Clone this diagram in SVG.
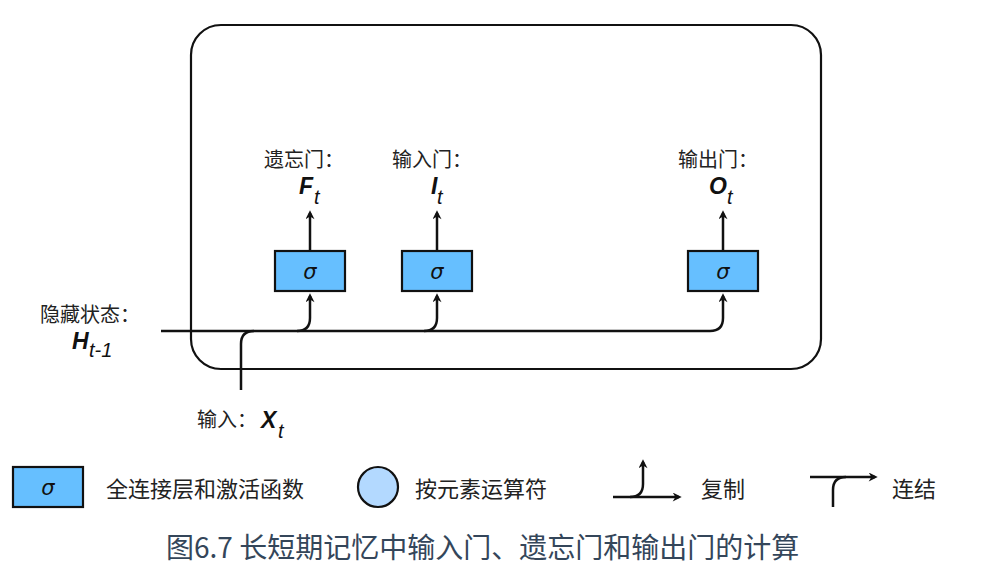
<svg xmlns="http://www.w3.org/2000/svg" width="997" height="577" viewBox="0 0 997 577">
<style>
.cjk{font-family:"Noto Sans CJK SC","Noto Sans",sans-serif;fill:#222}
.math{font-family:"Liberation Sans","DejaVu Sans",sans-serif;font-style:italic;font-weight:bold;fill:#111}
.sub{font-family:"Liberation Sans","DejaVu Sans",sans-serif;font-style:italic;fill:#111}
.sig{font-family:"DejaVu Sans","Liberation Sans",sans-serif;font-style:italic;font-size:21px;fill:#111;text-anchor:middle}
.box{fill:#66bfff;stroke:#111;stroke-width:2.2}
.ln{fill:none;stroke:#111;stroke-width:2.5}
.cap{font-family:"Noto Sans CJK SC","Noto Sans",sans-serif;fill:#34465a;font-size:28px}
</style>
<defs>
<marker id="ah" viewBox="0 0 10 10" refX="7" refY="5" markerWidth="10" markerHeight="9" orient="auto" markerUnits="userSpaceOnUse">
<path d="M0,0 L10,5 L0,10 L3,5 z" fill="#111"/>
</marker>
</defs>

<rect id="frame" x="191" y="25" width="630" height="344" rx="30" ry="30" fill="none" stroke="#111" stroke-width="2.2"/>

<g id="connectors">
<path class="ln" d="M161,331 L710,331 Q723,331 723,318 L723,296" marker-end="url(#ah)"/>
<path class="ln" d="M297,331 Q310,331 310,318 L310,296" marker-end="url(#ah)"/>
<path class="ln" d="M424,331 Q437,331 437,318 L437,296" marker-end="url(#ah)"/>
<path class="ln" d="M241,390 L241,344 Q241,331 254,331"/>
<path class="ln" d="M310,251 L310,213" marker-end="url(#ah)"/>
<path class="ln" d="M437,251 L437,213" marker-end="url(#ah)"/>
<path class="ln" d="M723,251 L723,213" marker-end="url(#ah)"/>
</g>

<g id="forget">
<rect class="box" x="275" y="251" width="70" height="40"/>
<text class="sig" x="310" y="279">σ</text>
<text class="cjk" x="264" y="167" font-size="20">遗忘门：</text>
<text class="math" x="299" y="194" font-size="23">F</text><text class="sub" x="314" y="204" font-size="20">t</text>
</g>
<g id="input">
<rect class="box" x="402" y="251" width="70" height="40"/>
<text class="sig" x="437" y="279">σ</text>
<text class="cjk" x="392" y="167" font-size="20">输入门：</text>
<text class="math" x="431" y="194" font-size="23">I</text><text class="sub" x="437" y="204" font-size="20">t</text>
</g>
<g id="output">
<rect class="box" x="688" y="251" width="70" height="40"/>
<text class="sig" x="723" y="279">σ</text>
<text class="cjk" x="678" y="167" font-size="20">输出门：</text>
<text class="math" x="709" y="194" font-size="23">O</text><text class="sub" x="727" y="204" font-size="20">t</text>
</g>
<g id="hidden">
<text class="cjk" x="40" y="322" font-size="20">隐藏状态：</text>
<text class="math" x="72" y="349" font-size="23">H</text><text class="sub" x="89" y="357" font-size="20">t-1</text>
</g>
<g id="xinput">
<text class="cjk" x="197" y="427" font-size="20">输入：</text>
<text class="math" x="261" y="428" font-size="23">X</text><text class="sub" x="278" y="438" font-size="20">t</text>
</g>

<g id="legend">
<rect class="box" x="13" y="467" width="70" height="40"/>
<text class="sig" x="48" y="495">σ</text>
<text class="cjk" x="106" y="497" font-size="22">全连接层和激活函数</text>
<circle cx="378" cy="487" r="20" fill="#b3d9ff" stroke="#111" stroke-width="2.2"/>
<text class="cjk" x="415" y="497" font-size="22">按元素运算符</text>
<path class="ln" d="M613,497 L679,497" marker-end="url(#ah)"/>
<path class="ln" d="M630,497 Q643,497 643,484 L643,462" marker-end="url(#ah)"/>
<text class="cjk" x="701" y="497" font-size="22">复制</text>
<path class="ln" d="M810,477 L875,477" marker-end="url(#ah)"/>
<path class="ln" d="M833,507 L833,490 Q833,477 846,477"/>
<text class="cjk" x="892" y="497" font-size="22">连结</text>
</g>

<text class="cap" x="166" y="558">图6.7 长短期记忆中输入门、遗忘门和输出门的计算</text>
</svg>
